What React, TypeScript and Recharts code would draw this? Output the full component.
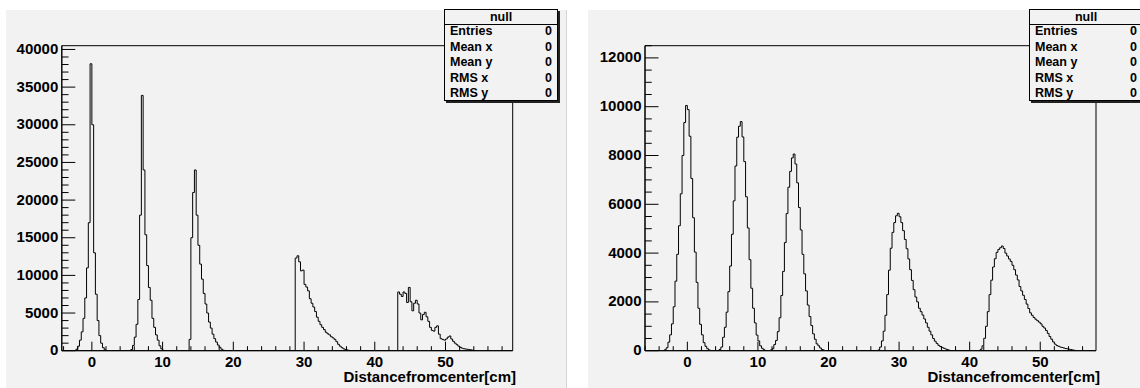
import React from 'react';
import { LineChart, Line, XAxis, YAxis, ReferenceArea } from 'recharts';

// histogram bin width in cm
const BIN = 0.25;

// left plot: five peaks, first bin edge of each + counts per bin
const leftPeakStarts = [-2.5, 5.25, 13.5, 28.5, 43];
const leftPeak1 = [0, 200, 600, 1400, 2500, 4300, 7000, 11000, 17000, 38100, 30000, 13000, 7500, 4000, 2000, 1000, 400, 100, 0];
const leftPeak2 = [0, 150, 700, 1800, 3500, 6800, 18000, 33900, 24000, 15400, 11300, 8400, 6700, 4300, 3100, 2100, 1400, 650, 250, 50, 0];
const leftPeak3 = [0, 1500, 15000, 21000, 24000, 18000, 14000, 11500, 9500, 7600, 6200, 5000, 3800, 3000, 2200, 1600, 1150, 750, 450, 200, 60, 0];
const leftPeak4 = [0, 12300, 12600, 11800, 10600, 10700, 8800, 8450, 7950, 6900, 6300, 5800, 5200, 4450, 3900, 3450, 3100, 2800, 2450, 2250, 2100, 1850, 1700, 1500, 1200, 850, 600, 400, 250, 170, 100, 40, 0];
const leftPeak5 = [0, 7800, 7500, 7200, 7800, 7600, 6400, 8400, 6500, 5300, 6300, 6700, 6200, 5000, 4100, 4800, 5100, 4500, 3900, 3100, 2700, 2600, 3100, 3300, 2200, 1600, 1500, 1400, 1550, 1800, 1950, 1550, 1250, 1000, 800, 600, 450, 330, 260, 220, 190, 150, 110, 70, 30, 0];

// right plot
const rightPeakStarts = [-3.5, 4.25, 11.5, 26.75, 41.25];
const rightPeak1 = [0, 40, 120, 350, 650, 1100, 1800, 2850, 3950, 5120, 6430, 8000, 9350, 10050, 9880, 8790, 7060, 5450, 4040, 2800, 1740, 1080, 650, 330, 180, 80, 30, 0];
const rightPeak2 = [0, 50, 150, 550, 960, 1580, 2420, 3470, 4770, 6140, 7570, 8750, 9200, 9390, 8760, 7750, 6310, 5030, 3730, 2560, 1740, 1140, 640, 400, 200, 100, 40, 0];
const rightPeak3 = [0, 30, 80, 250, 420, 780, 1350, 2260, 3250, 4430, 5620, 6700, 7350, 7900, 8060, 7650, 6880, 5870, 4950, 3950, 3150, 2450, 1870, 1400, 1030, 690, 470, 280, 200, 110, 50, 20, 0];
const rightPeak4 = [0, 30, 150, 400, 800, 1450, 2300, 3300, 4200, 4850, 5250, 5530, 5630, 5490, 5250, 4920, 4560, 4180, 3760, 3320, 2880, 2500, 2200, 2000, 1740, 1600, 1460, 1300, 1140, 960, 800, 650, 500, 390, 300, 220, 170, 135, 100, 70, 45, 20, 0];
const rightPeak5 = [0, 60, 200, 510, 1000, 1600, 2300, 2890, 3430, 3770, 4030, 4150, 4220, 4290, 4190, 4000, 3880, 3760, 3660, 3500, 3320, 3100, 2900, 2630, 2450, 2270, 2100, 1910, 1730, 1550, 1450, 1360, 1290, 1230, 1170, 1100, 1000, 930, 830, 710, 580, 470, 360, 270, 210, 180, 150, 130, 110, 90, 75, 60, 45, 30, 15, 0];

const xLabels = [0, 10, 20, 30, 40, 50];
const leftYLabels = [0, 5000, 10000, 15000, 20000, 25000, 30000, 35000, 40000];
const rightYLabels = [0, 2000, 4000, 6000, 8000, 10000, 12000];

const statTitle = 'null';
const statLabels = ['Entries', 'Mean x', 'Mean y', 'RMS x', 'RMS y'];
const statValues = [0, 0, 0, 0, 0];
const xTitle = 'Distancefromcenter[cm]';

const BG = '#f2f2f2';
const FONT = '"Liberation Sans", Arial, Helvetica, sans-serif';

const buildHist = (starts: number[], peaks: number[][]) =>
  peaks.flatMap((vals, k) => vals.map((y, i) => ({ x: starts[k] + i * BIN, y })));

const range = (a: number, b: number, step: number) => {
  const out: number[] = [];
  for (let v = a; v <= b + 1e-9; v += step) out.push(Math.round(v * 1000) / 1000);
  return out;
};

const leftData = buildHist(leftPeakStarts, [leftPeak1, leftPeak2, leftPeak3, leftPeak4, leftPeak5]);
const rightData = buildHist(rightPeakStarts, [rightPeak1, rightPeak2, rightPeak3, rightPeak4, rightPeak5]);

const labelStyle = { fontFamily: FONT, fontWeight: 700, fontSize: 15, fill: '#000' } as const;

function XTick(props: any) {
  const { x, y, payload, labels } = props;
  const major = labels.includes(payload.value);
  return (
    <g>
      <line x1={x} x2={x} y1={y} y2={y - (major ? 9 : 4.5)} stroke="#000" />
      {major && (
        <text x={x} y={y + 16.5} textAnchor="middle" style={labelStyle}>
          {payload.value}
        </text>
      )}
    </g>
  );
}

function YTick(props: any) {
  const { x, y, payload, labels } = props;
  const major = labels.includes(payload.value);
  return (
    <g>
      <line x1={x} x2={x + (major ? 13.5 : 6.75)} y1={y} y2={y} stroke="#000" />
      {major && (
        <text x={x - 3.5} y={y + 4.5} textAnchor="end" style={labelStyle}>
          {payload.value}
        </text>
      )}
    </g>
  );
}

function StatsBox({ left }: { left: number }) {
  return (
    <div
      style={{
        position: 'absolute', left, top: 9, width: 114, height: 92, boxSizing: 'border-box',
        background: BG, border: '1px solid #000', boxShadow: '2px 2px 0 #222',
        fontFamily: FONT, fontWeight: 700, fontSize: 12.5, color: '#000',
      }}
    >
      <div style={{ position: 'absolute', left: 0, right: 0, top: 0, height: 14, lineHeight: '14px', textAlign: 'center', borderBottom: '1px solid #000' }}>
        {statTitle}
      </div>
      {statLabels.map((s, i) => (
        <div key={s} style={{ position: 'absolute', left: 5, right: 5, top: 14 + i * 15.5, height: 14, lineHeight: '14px' }}>
          <span>{s}</span>
          <span style={{ position: 'absolute', right: 0 }}>{statValues[i]}</span>
        </div>
      ))}
    </div>
  );
}

function Histo({ left, data, xDomain, yDomain, xMinor, yMinor, yLabels, yAxisWidth, rightMargin }: any) {
  const xTicks = range(Math.ceil(xDomain[0] / xMinor) * xMinor, xDomain[1], xMinor);
  const yTicks = range(yDomain[0], yDomain[1], yMinor);
  return (
    <div style={{ position: 'absolute', left, top: 0 }}>
      <LineChart width={570} height={388} data={data} margin={{ top: 45.7, right: rightMargin, left: 0, bottom: 0 }}>
        <XAxis
          dataKey="x" type="number" domain={xDomain} allowDataOverflow ticks={xTicks} interval={0}
          height={37.3} tickSize={0} tickMargin={0} tickLine={false} axisLine={{ stroke: '#000' }}
          tick={(p: any) => <XTick {...p} labels={xLabels} />}
        />
        <YAxis
          type="number" domain={yDomain} allowDataOverflow ticks={yTicks} interval={0}
          width={yAxisWidth} tickSize={0} tickMargin={0} tickLine={false} axisLine={{ stroke: '#000' }}
          tick={(p: any) => <YTick {...p} labels={yLabels} />}
        />
        <ReferenceArea x1={xDomain[0]} x2={xDomain[1]} y1={yDomain[0]} y2={yDomain[1]} fill="none" stroke="#000" strokeWidth={1} />
        <Line type="stepAfter" dataKey="y" stroke="#000" strokeWidth={1} dot={false} isAnimationActive={false} />
      </LineChart>
    </div>
  );
}

export default function App() {
  const titleStyle = {
    position: 'absolute', top: 370, height: 14, lineHeight: '14px', fontFamily: FONT,
    fontWeight: 700, fontSize: 15, color: '#000', whiteSpace: 'nowrap',
  } as const;
  return (
    <div style={{ position: 'absolute', left: 0, top: 0, width: 1140, height: 388, overflow: 'hidden', background: '#fff' }}>
      <div style={{ position: 'absolute', left: 6, top: 10, width: 560, height: 378, background: BG, borderRight: '1px solid #d4d4d4' }} />
      <div style={{ position: 'absolute', left: 588, top: 10, width: 552, height: 378, background: BG }} />

      <Histo left={0} data={leftData} xDomain={[-4.25, 59.5]} yDomain={[0, 40500]} xMinor={2} yMinor={1000}
        yLabels={leftYLabels} yAxisWidth={61.8} rightMargin={57.3} />
      <Histo left={570} data={rightData} xDomain={[-6, 57.9]} yDomain={[0, 12500]} xMinor={2} yMinor={500}
        yLabels={rightYLabels} yAxisWidth={75} rightMargin={44} />

      <div style={{ ...titleStyle, right: 624 }}>{xTitle}</div>
      <div style={{ ...titleStyle, right: 40 }}>{xTitle}</div>

      <StatsBox left={444} />
      <StatsBox left={1029} />
    </div>
  );
}
